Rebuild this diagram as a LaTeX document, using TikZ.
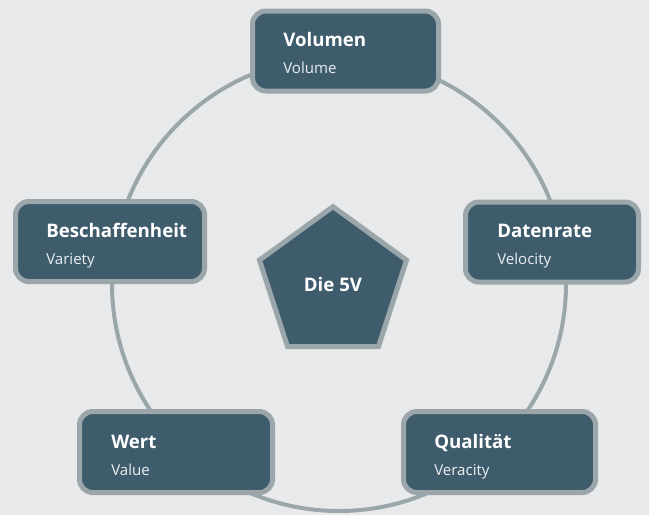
\documentclass[tikz,border=0pt]{standalone}
\usepackage{fontspec}
\setmainfont{Open Sans}
\usepackage{tikz}
\usetikzlibrary{calc, shapes.geometric}
\definecolor{bgGray}{RGB}{232, 233, 235}
\definecolor{rimGray}{RGB}{154, 166, 170}
\definecolor{slate}{RGB}{62, 92, 108}

\tikzset{
  vbox/.style={draw=rimGray, line width=3.75pt, fill=slate, rounded corners=10pt,
    minimum height=60pt, inner sep=0pt},
  ttl/.style={anchor=base west, inner sep=0pt, text=white,
    font=\fontsize{14}{16}\selectfont\bfseries},
  sub/.style={anchor=base west, inner sep=0pt, text=white!90!slate,
    font=\fontsize{11.3}{13}\selectfont},
  penta/.style={regular polygon, regular polygon sides=5, minimum size=116pt,
    inner sep=0pt, draw=rimGray, line width=3.75pt, fill=slate, text=white,
    font=\fontsize{14}{16}\selectfont\bfseries},
}

\begin{document}
\begin{tikzpicture}[x=0.75pt, y=-0.75pt]
  \fill[bgGray] (0,0) rectangle (649,515);
  \useasboundingbox (0,0) rectangle (649,515);

  % ring behind everything
  \draw[rimGray, line width=3pt] (339,284) circle[radius=227];

  % centre
  \node[penta] (core) at (333,284) {Die 5V};

  % the five V boxes
  \node[vbox, minimum width=139.5pt] (vol) at (345.5,51) {};
  \node[vbox, minimum width=141.75pt] (var) at (110,241.5) {};
  \node[vbox, minimum width=129.75pt] (vel) at (552,242) {};
  \node[vbox, minimum width=144.75pt, minimum height=60.75pt] (val) at (176,452) {};
  \node[vbox, minimum width=144pt, minimum height=60.75pt] (ver) at (499.5,452) {};

  \node[ttl] (volT) at ($(vol.north west)+(33,38)$) {Volumen};
  \node[sub] (volS) at ($(vol.north west)+(33,65)$) {Volume};
  \node[ttl] (varT) at ($(var.north west)+(33,38)$) {Beschaffenheit};
  \node[sub] (varS) at ($(var.north west)+(33,65)$) {Variety};
  \node[ttl] (velT) at ($(vel.north west)+(34,38)$) {Datenrate};
  \node[sub] (velS) at ($(vel.north west)+(34,65)$) {Velocity};
  \node[ttl] (valT) at ($(val.north west)+(34,39)$) {Wert};
  \node[sub] (valS) at ($(val.north west)+(34,66)$) {Value};
  \node[ttl] (verT) at ($(ver.north west)+(33,39)$) {Qualität};
  \node[sub] (verS) at ($(ver.north west)+(33,66)$) {Veracity};
\end{tikzpicture}
\end{document}
